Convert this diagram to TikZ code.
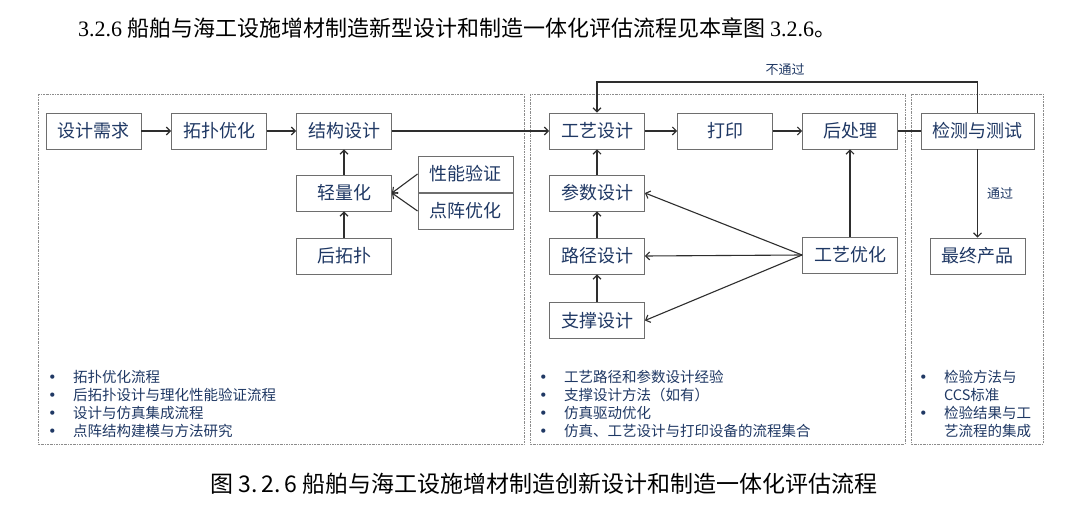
\documentclass[tikz,border=0pt]{standalone}
\usepackage{fontspec}
\setmainfont{Noto Sans CJK SC}
\newfontfamily\serifnum{Liberation Serif}
\newfontfamily\dotfont{DejaVu Sans}
\usetikzlibrary{arrows.meta}
\definecolor{navy}{HTML}{1F3864}
\definecolor{boxgray}{HTML}{6E6E6E}
\definecolor{linegray}{HTML}{2E2E2E}
\definecolor{panelgray}{HTML}{8C8C8C}
\tikzset{
    box/.style={draw=boxgray, line width=0.9pt, minimum width=95pt, minimum height=36pt, inner sep=0pt, text=navy, font=\fontsize{18}{20}\selectfont},
    arr/.style={draw=linegray, line width=1.1pt, -{Straight Barb[length=4pt,width=8pt]}},
    link/.style={draw=linegray, line width=1.1pt},
    panel/.style={draw=panelgray, line width=0.6pt, dash pattern=on 2pt off 1pt on 0.6pt off 1pt},
    bullets/.style={anchor=north west, inner sep=0pt, align=left, text=navy, font=\fontsize{14.5}{18}\selectfont},
    tag/.style={text=navy, inner sep=0pt, font=\fontsize{13}{15}\selectfont}
}
\newcommand{\dotitem}{\makebox[25pt][l]{\dotfont •}}

\begin{document}
\begin{tikzpicture}[x=1pt,y=-1pt]
    \useasboundingbox[fill=white] (0,0) rectangle (1080,508);
    \node[anchor=west, inner sep=0pt, font=\fontsize{22}{24}\selectfont] (head) at (78,28) {{\serifnum 3.2.6} 船舶与海工设施增材制造新型设计和制造一体化评估流程见本章图 {\serifnum 3.2.6}。};

    \draw[panel] (38,94) rectangle (524,444);
    \draw[panel] (530,94) rectangle (905,444);
    \draw[panel] (911,94) rectangle (1043,444);

    \node[box] (xuqiu) at (93.5,131) {设计需求};
    \node[box] (tuopu) at (219,131) {拓扑优化};
    \node[box] (jiegou) at (344,131) {结构设计};
    \node[box] (qingliang) at (344,193) {轻量化};
    \node[box] (xingneng) at (465.5,174) {性能验证};
    \node[box] (dianzhen) at (465.5,211) {点阵优化};
    \node[box] (houtuopu) at (344,256) {后拓扑};
    \node[box] (gongyi) at (597,131) {工艺设计};
    \node[box] (dayin) at (725,131) {打印};
    \node[box] (houchuli) at (850,131) {后处理};
    \node[box, minimum width=113pt] (jiance) at (977.5,131) {检测与测试};
    \node[box] (canshu) at (597,193) {参数设计};
    \node[box] (lujing) at (597,256) {路径设计};
    \node[box] (zhicheng) at (597,320.5) {支撑设计};
    \node[box] (youhua) at (850,255) {工艺优化};
    \node[box] (chanpin) at (977.5,256) {最终产品};

    \draw[arr] (xuqiu) -- (tuopu);
    \draw[arr] (tuopu) -- (jiegou);
    \draw[arr] (jiegou) -- (gongyi);
    \draw[arr] (qingliang) -- (jiegou);
    \draw[arr] (houtuopu) -- (qingliang);
    \draw[arr] (xingneng.west) -- (qingliang.east);
    \draw[arr] (dianzhen.west) -- (qingliang.east);
    \draw[arr] (gongyi) -- (dayin);
    \draw[arr] (dayin) -- (houchuli);
    \draw[link] (houchuli) -- (jiance);
    \draw[arr] (canshu) -- (gongyi);
    \draw[arr] (lujing) -- (canshu);
    \draw[arr] (zhicheng) -- (lujing);
    \draw[arr] (youhua.west) -- (canshu.east);
    \draw[arr] (youhua.west) -- (lujing.east);
    \draw[arr] (youhua.west) -- (zhicheng.east);
    \draw[arr] (youhua) -- (houchuli);
    \draw[arr] (jiance) -- node[tag, right=9pt] (tongguo) {通过} (chanpin);
    \coordinate (turn) at (597,82);
    \draw[arr] (jiance.north) |- (turn) -- (gongyi.north);
    \node[tag] (butongguo) at (785,70) {不通过};

    \node[bullets] (listA) at (48,370) {\dotitem 拓扑优化流程\\ \dotitem 后拓扑设计与理化性能验证流程\\ \dotitem 设计与仿真集成流程\\ \dotitem 点阵结构建模与方法研究};
    \node[bullets] (listB) at (539,370) {\dotitem 工艺路径和参数设计经验\\ \dotitem 支撑设计方法（如有）\\ \dotitem 仿真驱动优化\\ \dotitem 仿真、工艺设计与打印设备的流程集合};
    \node[bullets] (listC) at (919,370) {\dotitem 检验方法与\\ \hspace*{25pt}CCS标准\\ \dotitem 检验结果与工\\ \hspace*{25pt}艺流程的集成};

    \node[anchor=west, inner sep=0pt, font=\fontsize{23}{25}\selectfont] (caption) at (210,484) {图 3.\hspace{4pt}2.\hspace{4pt}6 船舶与海工设施增材制造创新设计和制造一体化评估流程};
\end{tikzpicture}
\end{document}
